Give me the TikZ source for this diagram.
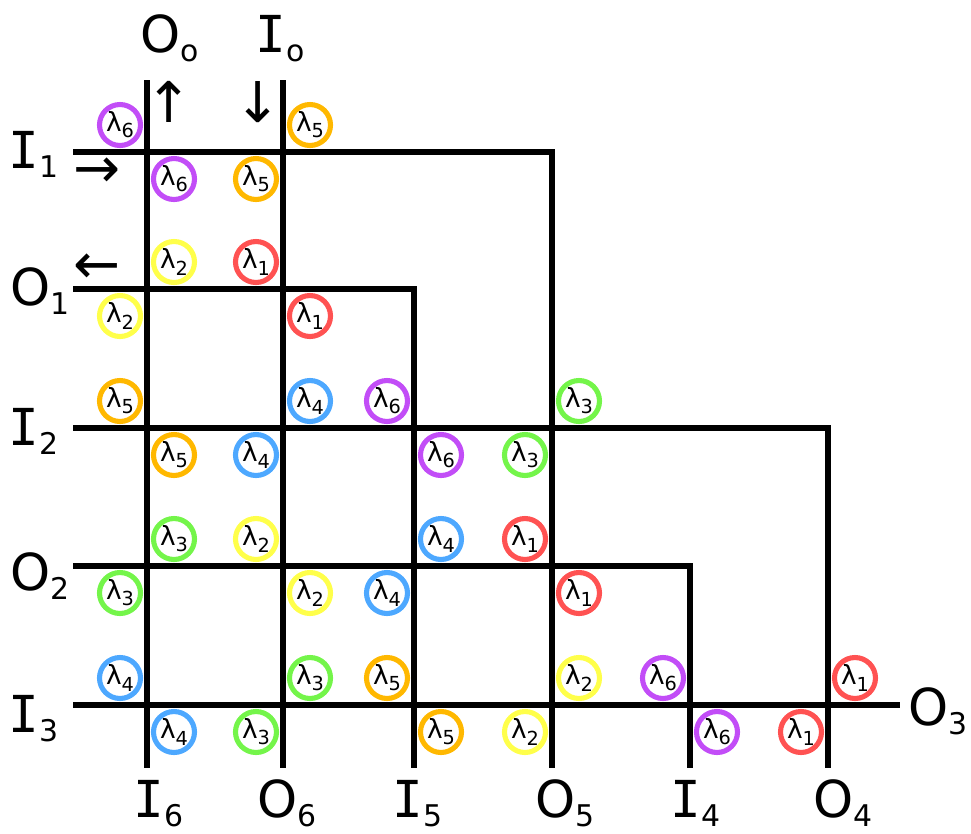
\documentclass[tikz,border=0pt]{standalone}
\usepackage{fontspec}
\setmainfont{DejaVu Sans}
\newfontfamily\portfont{DejaVu Sans Mono}
\usepackage{xcolor}
\usepackage{tikz}
\usetikzlibrary{positioning}
\definecolor{lamred}{HTML}{FF5252}
\definecolor{lamyellow}{HTML}{FFFF4A}
\definecolor{lamgreen}{HTML}{74F54A}
\definecolor{lamblue}{HTML}{4DA8FF}
\definecolor{lamorange}{HTML}{FFB800}
\definecolor{lampurple}{HTML}{C24DF7}
\newcommand{\portsub}[2]{#1\raisebox{-5.5pt}{\fontsize{17}{17}\selectfont #2}}
\newcommand{\inport}[1]{{\portfont I}\raisebox{-5.5pt}{\fontsize{17}{17}\selectfont #1}}
\newcommand{\lam}[1]{λ\raisebox{-3.5pt}{\fontsize{11}{11}\selectfont #1}}

\begin{document}
\begin{tikzpicture}[
    x=0.02cm, y=-0.02cm,
    fiber/.style={line width=3.1pt, black},
    wnode/.style={circle, draw, line width=2.9pt, minimum size=0.82cm, inner sep=0pt, font=\fontsize{15}{15}\selectfont},
    l1node/.style={wnode, draw=lamred},
    l2node/.style={wnode, draw=lamyellow},
    l3node/.style={wnode, draw=lamgreen},
    l4node/.style={wnode, draw=lamblue},
    l5node/.style={wnode, draw=lamorange},
    l6node/.style={wnode, draw=lampurple},
    port/.style={anchor=base west, inner sep=0pt, font=\fontsize{29}{32}\selectfont},
    dirarrow/.style={inner sep=0pt, font=\fontsize{32}{32}\selectfont}
]
\useasboundingbox (0,0) rectangle (971,833);

% Line ends and corners
\coordinate (i6n) at (147,80);
\coordinate (i6s) at (147,768);
\coordinate (o6n) at (283,80);
\coordinate (o6s) at (283,768);
\coordinate (i5s) at (414,768);
\coordinate (o5s) at (552,768);
\coordinate (i4s) at (690,768);
\coordinate (o4s) at (828,768);
\coordinate (i1w) at (73,152);
\coordinate (o1w) at (73,289);
\coordinate (i2w) at (73,428);
\coordinate (o2w) at (73,566);
\coordinate (i3w) at (73,705);
\coordinate (o3e) at (900,705);
\coordinate (k1) at (552,152);
\coordinate (k2) at (414,289);
\coordinate (k3) at (828,428);
\coordinate (k4) at (690,566);

% Fibres
\draw[fiber] (i6n) -- (i6s);
\draw[fiber] (o6n) -- (o6s);
\draw[fiber] (i1w) -- (k1) -- (o5s);
\draw[fiber] (o1w) -- (k2) -- (i5s);
\draw[fiber] (i2w) -- (k3) -- (o4s);
\draw[fiber] (o2w) -- (k4) -- (i4s);
\draw[fiber] (i3w) -- (o3e);

% Ports
\node[port] (oo) at (140,52) {\portsub{O}{o}};
\node[port] (io) at (255,52) {\inport{o}};
\node[port] (i1) at (8,168) {\inport{1}};
\node[port] (o1) at (10,305) {\portsub{O}{1}};
\node[port] (i2) at (8,445) {\inport{2}};
\node[port] (o2) at (10,590) {\portsub{O}{2}};
\node[port] (i3) at (8,732) {\inport{3}};
\node[port] (o3) at (908,725) {\portsub{O}{3}};
\node[port] (i6) at (133,817) {\inport{6}};
\node[port] (o6) at (257,817) {\portsub{O}{6}};
\node[port] (i5) at (392,817) {\inport{5}};
\node[port] (o5) at (535,817) {\portsub{O}{5}};
\node[port] (i4) at (670,817) {\inport{4}};
\node[port] (o4) at (813,817) {\portsub{O}{4}};

% Directions
\node[dirarrow] (arrin) at (97,173) {→};
\node[dirarrow] (arrout) at (97,269) {←};
\node[dirarrow] (arrup) at (169,102) {↑};
\node[dirarrow] (arrdown) at (258,102) {↓};

% Row I1
\node[l6node] (r0c0nw) at (120,125) {\lam{6}};
\node[l6node] (r0c0se) at (174,179) {\lam{6}};
\node[l5node] (r0c1sw) at (256,179) {\lam{5}};
\node[l5node] (r0c1ne) at (310,125) {\lam{5}};

% Row O1
\node[l2node] (r1c0ne) at (174,262) {\lam{2}};
\node[l2node] (r1c0sw) at (120,316) {\lam{2}};
\node[l1node] (r1c1nw) at (256,262) {\lam{1}};
\node[l1node] (r1c1se) at (310,316) {\lam{1}};

% Row I2
\node[l5node] (r2c0nw) at (120,401) {\lam{5}};
\node[l5node] (r2c0se) at (174,455) {\lam{5}};
\node[l4node] (r2c1ne) at (310,401) {\lam{4}};
\node[l4node] (r2c1sw) at (256,455) {\lam{4}};
\node[l6node] (r2c2nw) at (387,401) {\lam{6}};
\node[l6node] (r2c2se) at (441,455) {\lam{6}};
\node[l3node] (r2c3ne) at (579,401) {\lam{3}};
\node[l3node] (r2c3sw) at (525,455) {\lam{3}};

% Row O2
\node[l3node] (r3c0ne) at (174,539) {\lam{3}};
\node[l3node] (r3c0sw) at (120,593) {\lam{3}};
\node[l2node] (r3c1nw) at (256,539) {\lam{2}};
\node[l2node] (r3c1se) at (310,593) {\lam{2}};
\node[l4node] (r3c2ne) at (441,539) {\lam{4}};
\node[l4node] (r3c2sw) at (387,593) {\lam{4}};
\node[l1node] (r3c3nw) at (525,539) {\lam{1}};
\node[l1node] (r3c3se) at (579,593) {\lam{1}};

% Row I3
\node[l4node] (r4c0nw) at (120,678) {\lam{4}};
\node[l4node] (r4c0se) at (174,732) {\lam{4}};
\node[l3node] (r4c1ne) at (310,678) {\lam{3}};
\node[l3node] (r4c1sw) at (256,732) {\lam{3}};
\node[l5node] (r4c2nw) at (387,678) {\lam{5}};
\node[l5node] (r4c2se) at (441,732) {\lam{5}};
\node[l2node] (r4c3ne) at (579,678) {\lam{2}};
\node[l2node] (r4c3sw) at (525,732) {\lam{2}};
\node[l6node] (r4c4nw) at (663,678) {\lam{6}};
\node[l6node] (r4c4se) at (717,732) {\lam{6}};
\node[l1node] (r4c5ne) at (855,678) {\lam{1}};
\node[l1node] (r4c5sw) at (801,732) {\lam{1}};

\end{tikzpicture}
\end{document}
